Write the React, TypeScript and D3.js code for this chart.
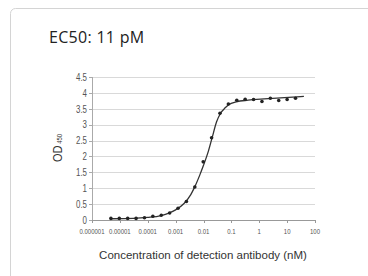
import React from 'react';
import * as d3 from 'd3';

// measured points (nM, OD450)
const conc = [
  0.000004768, 0.000009537, 0.00001907, 0.00003815, 0.00007629, 0.0001526,
  0.0003052, 0.0006104, 0.001221, 0.002441, 0.004883, 0.009766, 0.01953,
  0.03906, 0.07813, 0.1563, 0.3125, 0.625, 1.25, 2.5, 5, 10, 20,
];
const od = [
  0.05, 0.05, 0.05, 0.05, 0.07, 0.12, 0.15, 0.22, 0.37, 0.58, 1.04, 1.83, 2.59,
  3.36, 3.65, 3.77, 3.8, 3.79, 3.73, 3.83, 3.76, 3.79, 3.83,
];

// fitted curve
const fitConc = [
  0.0000048, 0.00003, 0.0001, 0.0003, 0.001, 0.002, 0.0035, 0.0049, 0.0074,
  0.01, 0.0148, 0.0204, 0.0295, 0.041, 0.06, 0.078, 0.15, 0.4, 1.5, 8, 40,
];
const fitOd = [
  0.04, 0.05, 0.08, 0.14, 0.32, 0.52, 0.8, 1.05, 1.42, 1.72, 2.15, 2.59, 3.09,
  3.36, 3.53, 3.62, 3.72, 3.77, 3.81, 3.85, 3.89,
];

const xTicks = [0.000001, 0.00001, 0.0001, 0.001, 0.01, 0.1, 1, 10, 100];
const xTickLabels = ['0.000001', '0.00001', '0.0001', '0.001', '0.01', '0.1', '1', '10', '100'];
const yTicks = [0, 0.5, 1, 1.5, 2, 2.5, 3, 3.5, 4, 4.5];

const App = () => {
  const x = d3.scaleLog().domain([0.000001, 100]).range([92, 315]);
  const y = d3.scaleLinear().domain([0, 4.5]).range([220, 77]);

  const line = d3.line<number>()
    .x((d, i) => x(fitConc[i]))
    .y(d => y(d))
    .curve(d3.curveMonotoneX);

  const sans = '"Liberation Sans", Arial, sans-serif';

  return (
    <div style={{ position: 'absolute', left: 0, top: 0 }}>
      <svg width={368} height={276} style={{ display: 'block', background: '#fff' }}>
        <rect x={10.5} y={8.5} width={400} height={300} rx={5} fill="#fff" stroke="#d4d4d4" />
        <text x={49} y={43} fontFamily='"Open Sans", sans-serif' fontSize={16} letterSpacing={0.3} fill="#222">EC50: 11 pM</text>

        {/* grid */}
        {yTicks.filter(t => t > 0).map(t => (
          <line key={t} x1={92} x2={315} y1={Math.round(y(t)) + 0.5} y2={Math.round(y(t)) + 0.5} stroke="#d9d9d9" />
        ))}
        {/* axes */}
        <line x1={92.5} x2={92.5} y1={y(4.5)} y2={y(0)} stroke="#aaa" />
        <line x1={92} x2={315} y1={220.5} y2={220.5} stroke="#999" />
        {yTicks.map(t => (
          <g key={t}>
            <line x1={89} x2={92} y1={Math.round(y(t)) + 0.5} y2={Math.round(y(t)) + 0.5} stroke="#aaa" />
            <g transform={`translate(87,${y(t) + 3.8}) scale(0.72,1)`}>
              <text textAnchor="end" fontFamily={sans} fontSize={11} fill="#555">{t}</text>
            </g>
          </g>
        ))}
        {xTicks.map((t, i) => (
          <g key={t}>
            <line x1={Math.round(x(t)) + 0.5} x2={Math.round(x(t)) + 0.5} y1={220} y2={223} stroke="#999" />
            <g transform={`translate(${x(t)},234) scale(0.75,1)`}>
              <text textAnchor="middle" fontFamily={sans} fontSize={8} fill="#555">{xTickLabels[i]}</text>
            </g>
          </g>
        ))}

        {/* fit */}
        <path d={line(fitOd) || ''} fill="none" stroke="#333" strokeWidth={1.3} />
        {/* points */}
        {od.map((v, i) => (
          <circle key={i} cx={x(conc[i])} cy={y(v)} r={1.8} fill="#222" />
        ))}

        <g transform="translate(62,148) rotate(-90) scale(0.85,1)">
          <text textAnchor="middle" fontFamily={sans} fontSize={13} fill="#333">
            OD<tspan fontSize={7} dx={2}>450</tspan>
          </text>
        </g>
        <text x={203} y={259} textAnchor="middle" fontFamily={sans} fontSize={11.5} fill="#333">
          Concentration of detection antibody (nM)
        </text>
      </svg>
    </div>
  );
};

export default App;
